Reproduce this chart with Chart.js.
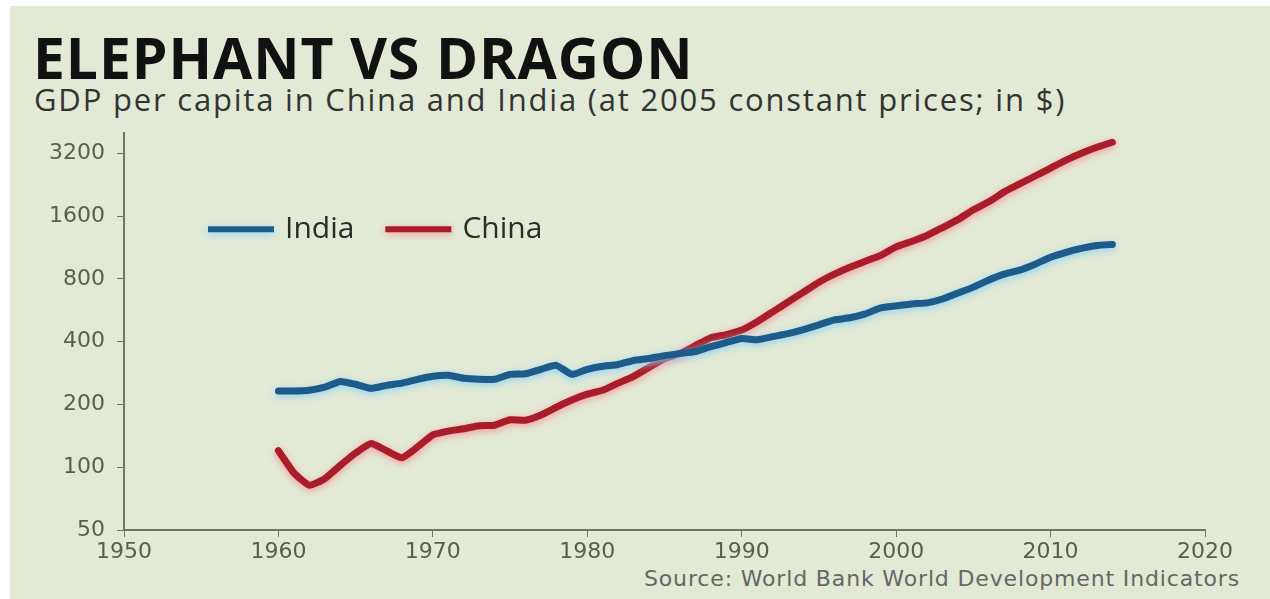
<!DOCTYPE html>
<html>
<head>
<meta charset="utf-8">
<script src="https://cdn.jsdelivr.net/npm/chart.js@4"></script>
<style>
html, body {
    margin: 0;
    padding: 0;
    background: #ffffff;
    width: 1270px;
    height: 599px;
    overflow: hidden;
}
#panel {
    position: absolute;
    left: 10px;
    top: 6px;
    width: 1260px;
    height: 593px;
    background: #e2e9d5;
}
#title {
    position: absolute;
    left: 33px;
    top: 17px;
    font-family: "Open Sans", sans-serif;
    font-weight: 700;
    font-size: 57px;
    line-height: 80px;
    color: #111;
    letter-spacing: 0.9px;
}
#subtitle {
    position: absolute;
    left: 34px;
    top: 79px;
    font-family: "Open Sans", sans-serif;
    font-size: 31px;
    line-height: 40px;
    color: #333;
    letter-spacing: 1.8px;
}
#source {
    position: absolute;
    right: 30px;
    top: 565px;
    font-family: "DejaVu Sans", sans-serif;
    font-size: 22px;
    line-height: 28px;
    color: #666;
    letter-spacing: 0.85px;
}
#wrap {
    position: absolute;
    left: 0;
    top: 108px;
    width: 1270px;
    height: 462px;
}
</style>
</head>
<body>
<div id="panel"></div>
<div id="title">ELEPHANT VS DRAGON</div>
<div id="subtitle">GDP per capita in China and India (at 2005 constant prices; in $)</div>
<div id="source">Source: World Bank World Development Indicators</div>
<div id="wrap"><canvas id="gdpChart" width="1270" height="462"></canvas></div>

<script>
// values, GDP per capita in 2005 US$
const years = [
    1960,1961,1962,1963,1964,1965,1966,1967,1968,1969,
    1970,1971,1972,1973,1974,1975,1976,1977,1978,1979,
    1980,1981,1982,1983,1984,1985,1986,1987,1988,1989,
    1990,1991,1992,1993,1994,1995,1996,1997,1998,1999,
    2000,2001,2002,2003,2004,2005,2006,2007,2008,2009,
    2010,2011,2012,2013,2014
];

const india = [
    232,232,234,242,258,250,239,247,253,264,
    273,276,267,264,264,279,281,295,308,279,
    295,305,311,325,332,343,351,359,379,396,
    414,409,423,437,457,482,509,521,544,581,
    594,607,614,641,685,731,790,843,881,941,
    1016,1073,1121,1158,1171
];

const china = [
    120,94,82,88,102,117,130,120,111,125,
    143,149,153,158,159,169,168,178,194,210,
    224,234,253,273,301,332,351,383,418,432,
    455,499,556,620,692,772,843,910,972,1038,
    1140,1210,1293,1410,1540,1718,1875,2092,2283,2493,
    2721,2970,3206,3426,3618
];

const yTicks = [50,100,200,400,800,1600,3200];

const tickFont = {
    family: "DejaVu Sans",
    size: 22
};

function points(values){
    return years.map(
        (yr,i) => ({ x: yr, y: values[i] })
    );
}

// soft halo under each line, like the print
const glow = {
    id: "glow",
    beforeDatasetDraw(chart, args){
        const ds = chart.data.datasets[args.index];
        const ctx = chart.ctx;
        ctx.save();
        ctx.shadowColor = ds.glowColor;
        ctx.shadowBlur = 7;
        ctx.shadowOffsetY = 2;
    },
    afterDatasetDraw(chart){
        chart.ctx.restore();
    }
};

// legend drawn inside the plot, top left
const innerLegend = {
    id: "innerLegend",
    afterDatasetsDraw(chart){
        const ctx = chart.ctx;
        const area = chart.chartArea;
        let x = area.left + 84;
        const y = area.top + 96;
        ctx.save();
        ctx.font = "30px 'Open Sans'";
        ctx.textBaseline = "middle";
        chart.data.datasets.forEach(ds => {
            ctx.save();
            ctx.shadowColor = ds.glowColor;
            ctx.shadowBlur = 7;
            ctx.shadowOffsetY = 2;
            ctx.strokeStyle = ds.borderColor;
            ctx.lineWidth = 6;
            ctx.beginPath();
            ctx.moveTo(x, y);
            ctx.lineTo(x + 66, y);
            ctx.stroke();
            ctx.restore();
            ctx.fillStyle = "#2b2b2b";
            ctx.fillText(ds.label, x + 77, y);
            x += 77 + ctx.measureText(ds.label).width + 31;
        });
        ctx.restore();
    }
};

new Chart(
    document.getElementById("gdpChart"),
    {
        type: "line",
        data: {
            datasets: [
                {
                    label: "India",
                    data: points(india),
                    borderColor: "#1d5b8a",
                    glowColor: "#8fd4f4",
                    borderWidth: 7,
                    pointRadius: 0,
                    tension: 0.15,
                    borderCapStyle: "round",
                    borderJoinStyle: "round"
                },
                {
                    label: "China",
                    data: points(china),
                    borderColor: "#a91d2a",
                    glowColor: "#f59a9c",
                    borderWidth: 7,
                    pointRadius: 0,
                    tension: 0.15,
                    borderCapStyle: "round",
                    borderJoinStyle: "round"
                }
            ]
        },
        options: {
            responsive: false,
            animation: false,
            layout: {
                padding: { top: 2, right: 65, left: 0, bottom: 0 }
            },
            plugins: {
                legend: { display: false },
                tooltip: { enabled: false }
            },
            scales: {
                x: {
                    type: "linear",
                    min: 1950,
                    max: 2020,
                    afterFit(scale){ scale.height = 40; },
                    ticks: {
                        stepSize: 10,
                        color: "#5c5c55",
                        font: tickFont,
                        padding: 2,
                        callback: v => String(v)
                    },
                    grid: {
                        drawOnChartArea: false,
                        tickLength: 7,
                        color: "#6f7566"
                    },
                    border: { color: "#6f7566", width: 2 }
                },
                y: {
                    type: "logarithmic",
                    min: 50,
                    max: 4000,
                    afterFit(scale){ scale.width = 124; },
                    afterBuildTicks(scale){
                        scale.ticks = yTicks.map(v => ({ value: v }));
                    },
                    ticks: {
                        color: "#5c5c55",
                        font: tickFont,
                        padding: 12,
                        callback: v => String(v)
                    },
                    grid: {
                        drawOnChartArea: false,
                        tickLength: 7,
                        color: "#6f7566"
                    },
                    border: { color: "#6f7566", width: 2 }
                }
            }
        },
        plugins: [glow, innerLegend]
    }
);
</script>
</body>
</html>
